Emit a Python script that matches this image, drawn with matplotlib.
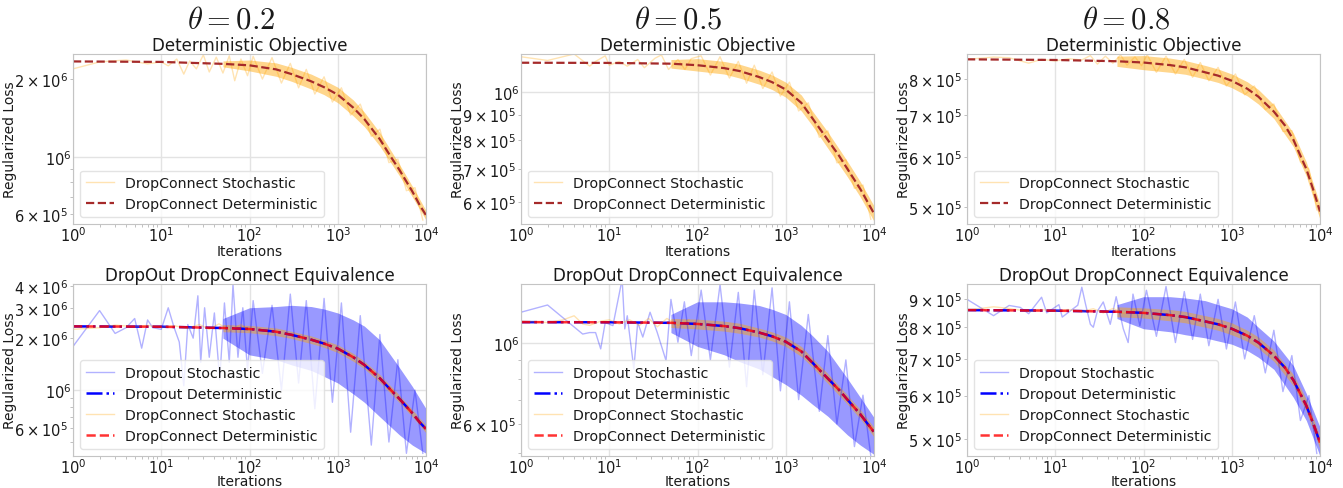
import numpy as np
import matplotlib
matplotlib.use('Agg')
from matplotlib import pyplot as plt

# Column headings
THETAS = ['0.2', '0.5', '0.8']

# Deterministic objective (same curve drawn in both rows of a column)
DET_X = [1, 10, 50, 100, 200, 300, 500, 700, 1000, 1500, 2000, 3000, 4000, 5000, 7000, 8500, 10000]
DET_02 = [2.34e6, 2.33e6, 2.29e6, 2.26e6, 2.18e6, 2.09e6, 1.96e6, 1.86e6, 1.74e6,
          1.55e6, 1.40e6, 1.17e6, 1.0e6, 8.9e5, 7.35e5, 6.5e5, 5.95e5]
DET_05 = [1.143e6, 1.142e6, 1.138e6, 1.13e6, 1.115e6, 1.10e6, 1.07e6, 1.045e6, 1.01e6,
          9.5e5, 8.85e5, 8.0e5, 7.45e5, 7.0e5, 6.38e5, 6.0e5, 5.7e5]
DET_08 = [8.6e5, 8.58e5, 8.54e5, 8.5e5, 8.42e5, 8.35e5, 8.2e5, 8.1e5, 7.95e5,
          7.72e5, 7.5e5, 7.1e5, 6.75e5, 6.4e5, 5.75e5, 5.3e5, 4.92e5]

# dense part of the stochastic runs: lower / upper envelope
BAND_X = [50, 100, 200, 300, 500, 700, 1000, 1500, 2000, 3000, 5000, 7000, 10000]

# --- top row: DropConnect stochastic (individual points, then largest spikes) ---
TOP_DC_X_02 = [1, 2, 4, 7, 10, 12, 15, 18, 21, 25, 30, 35, 42, 50, 59, 68, 80, 95,
               110, 140, 180, 230, 290, 360, 440, 550, 700, 870, 1100, 1400, 1800, 2400,
               3000, 3800, 4800, 6000, 7500, 9200]
TOP_DC_Y_02 = [2.19e6, 2.33e6, 2.37e6, 2.29e6, 2.33e6, 2.25e6, 2.39e6, 2.09e6, 2.35e6,
               2.19e6, 2.48e6, 2.13e6, 2.43e6, 2.11e6, 2.46e6, 1.97e6, 2.39e6, 2.06e6,
               2.45e6, 2.0e6, 2.42e6, 1.93e6, 2.3e6, 1.85e6, 2.18e6, 1.75e6, 2.04e6,
               1.63e6, 1.85e6, 1.45e6, 1.6e6, 1.2e6, 1.28e6, 9.5e5, 9.8e5, 7.4e5,
               7.6e5, 5.7e5]
TOP_DC_HI_02 = [2.35e6, 2.37e6, 2.31e6, 2.22e6, 2.09e6, 1.98e6, 1.86e6, 1.66e6, 1.49e6,
                1.24e6, 9.35e5, 7.7e5, 6.2e5]
TOP_DC_LO_02 = [2.23e6, 2.15e6, 2.05e6, 1.96e6, 1.83e6, 1.74e6, 1.62e6, 1.44e6, 1.31e6,
                1.10e6, 8.45e5, 7.0e5, 5.7e5]

TOP_DC_X_05 = [1, 2, 4, 6, 7, 9, 10, 13, 16, 21, 25, 33, 39, 47, 60, 72, 85,
               110, 140, 180, 230, 290, 360, 440, 550, 700, 870, 1100, 1400, 1800, 2400,
               3000, 3800, 4800, 6000, 7500, 9200]
TOP_DC_Y_05 = [1.175e6, 1.155e6, 1.19e6, 1.125e6, 1.15e6, 1.18e6, 1.13e6, 1.15e6, 1.125e6,
               1.16e6, 1.117e6, 1.167e6, 1.185e6, 1.108e6, 1.16e6, 1.108e6, 1.165e6,
               1.18e6, 1.08e6, 1.175e6, 1.065e6, 1.15e6, 1.04e6, 1.13e6, 1.015e6, 1.095e6,
               9.8e5, 1.045e6, 9.15e5, 9.5e5, 8.1e5, 8.35e5, 7.2e5, 7.3e5, 6.4e5, 6.5e5,
               5.55e5]
TOP_DC_HI_05 = [1.16e6, 1.165e6, 1.15e6, 1.135e6, 1.105e6, 1.08e6, 1.045e6, 9.85e5, 9.15e5,
                8.3e5, 7.25e5, 6.6e5, 5.9e5]
TOP_DC_LO_05 = [1.115e6, 1.10e6, 1.085e6, 1.065e6, 1.035e6, 1.01e6, 9.75e5, 9.15e5, 8.55e5,
                7.7e5, 6.75e5, 6.15e5, 5.5e5]

TOP_DC_X_08 = [1, 2, 3, 5, 7, 10, 14, 20, 25, 30, 37, 45, 55, 65, 80, 95,
               110, 140, 180, 230, 290, 360, 440, 550, 700, 870, 1100, 1400, 1800, 2400,
               3000, 3800, 4800, 6000, 7500, 9200]
TOP_DC_Y_08 = [8.6e5, 8.67e5, 8.65e5, 8.48e5, 8.6e5, 8.55e5, 8.62e5, 8.58e5, 8.72e5,
               8.45e5, 8.7e5, 8.48e5, 8.74e5, 8.42e5, 8.68e5, 8.40e5,
               8.75e5, 8.2e5, 8.7e5, 8.15e5, 8.6e5, 8.05e5, 8.5e5, 7.95e5, 8.35e5, 7.8e5,
               8.15e5, 7.55e5, 7.8e5, 7.15e5, 7.3e5, 6.6e5, 6.62e5, 5.9e5, 5.75e5, 4.95e5]
TOP_DC_HI_08 = [8.7e5, 8.72e5, 8.64e5, 8.56e5, 8.41e5, 8.3e5, 8.15e5, 7.92e5, 7.7e5,
                7.28e5, 6.56e5, 5.9e5, 5.05e5]
TOP_DC_LO_08 = [8.38e5, 8.28e5, 8.2e5, 8.14e5, 8.0e5, 7.9e5, 7.75e5, 7.52e5, 7.3e5,
                6.92e5, 6.24e5, 5.6e5, 4.78e5]

# --- bottom row: Dropout stochastic (individual points, then largest spikes) ---
DO_X_02 = [1, 2, 3, 4, 5, 6, 7, 8, 10, 12, 14, 16, 18, 20, 23, 26, 28, 31, 35, 40, 46, 52,
           59, 65, 74, 84, 95, 110, 140, 180, 230, 290, 360, 440, 550, 700, 870, 1100,
           1400, 1800, 2400, 3000, 3800, 4800, 6000, 7500, 9200]
DO_Y_02 = [1.79e6, 2.89e6, 2.13e6, 2.3e6, 2.6e6, 1.75e6, 2.55e6, 2.3e6, 2.25e6, 3.0e6,
           2.3e6, 1.9e6, 1.06e6, 2.4e6, 2.0e6, 3.52e6, 1.45e6, 3.0e6, 1.55e6, 2.8e6,
           1.15e6, 3.2e6, 1.45e6, 4.1e6, 1.55e6, 3.0e6, 1.3e6, 3.3e6, 1.25e6, 3.1e6,
           1.0e6, 3.6e6, 1.1e6, 3.3e6, 7.8e5, 3.4e6, 8.5e5, 3.2e6, 5.7e5, 2.7e6, 4.8e5,
           2.1e6, 5.0e5, 1.5e6, 4.3e5, 1.0e6, 4.3e5]
DO_HI_02 = [2.6e6, 3.0e6, 3.05e6, 3.1e6, 3.05e6, 2.95e6, 2.8e6, 2.55e6, 2.35e6, 1.95e6,
            1.35e6, 1.05e6, 7.8e5]
DO_LO_02 = [2.0e6, 1.6e6, 1.5e6, 1.4e6, 1.3e6, 1.2e6, 1.1e6, 9.5e5, 8.5e5, 7.0e5,
            5.5e5, 4.8e5, 4.3e5]

DO_X_05 = [1, 2, 5, 6, 7, 8, 9, 11, 14, 15, 16, 19, 21, 24, 29, 35, 44, 50, 60, 71, 85,
           110, 140, 180, 230, 290, 360, 440, 550, 700, 870, 1100, 1400, 1800, 2400,
           3000, 3800, 4800, 6000, 7500, 9200]
DO_Y_05 = [1.217e6, 1.274e6, 1.06e6, 1.07e6, 1.07e6, 9.65e5, 1.14e6, 1.118e6, 1.5e6,
           1.095e6, 1.19e6, 8.5e5, 1.14e6, 1.04e6, 1.217e6, 1.07e6, 8.96e5, 1.32e6,
           1.007e6, 1.30e6, 9.25e5, 1.40e6, 9.0e5, 1.45e6, 8.6e5, 1.38e6, 7.6e5, 1.40e6,
           8.2e5, 1.42e6, 7.4e5, 1.30e6, 7.0e5, 1.20e6, 6.5e5, 1.05e6, 6.0e5, 9.0e5,
           5.2e5, 7.2e5, 4.9e5]
DO_HI_05 = [1.2e6, 1.30e6, 1.30e6, 1.29e6, 1.27e6, 1.24e6, 1.20e6, 1.12e6, 1.05e6, 9.5e5,
            8.0e5, 7.1e5, 6.25e5]
DO_LO_05 = [1.07e6, 9.8e5, 9.3e5, 8.9e5, 8.5e5, 8.1e5, 7.7e5, 7.2e5, 6.8e5, 6.3e5,
            5.6e5, 5.25e5, 4.95e5]

DO_X_08 = [1, 2, 3, 4, 5, 7, 8, 11, 12, 18, 20, 22, 25, 27, 30, 35, 42, 49, 59, 67, 76,
           91, 108, 140, 180, 230, 290, 360, 440, 550, 700, 870, 1100, 1400, 1800, 2400,
           3000, 3800, 4800, 6000, 7500, 9200]
DO_Y_08 = [9.0e5, 8.4e5, 8.77e5, 8.7e5, 8.47e5, 9.08e5, 8.5e5, 8.8e5, 8.35e5, 8.78e5,
           9.47e5, 8.83e5, 8.1e5, 8.0e5, 8.56e5, 8.9e5, 8.1e5, 9.1e5, 7.95e5, 7.5e5,
           9.2e5, 8.05e5, 9.35e5, 7.7e5, 9.5e5, 7.5e5, 9.3e5, 7.6e5, 9.2e5, 7.4e5, 9.0e5,
           7.3e5, 8.9e5, 7.0e5, 8.4e5, 6.6e5, 7.9e5, 6.1e5, 7.1e5, 5.4e5, 6.0e5, 4.7e5]
DO_HI_08 = [8.8e5, 9.1e5, 9.1e5, 9.05e5, 8.95e5, 8.8e5, 8.65e5, 8.35e5, 8.0e5, 7.55e5,
            6.8e5, 6.05e5, 5.25e5]
DO_LO_08 = [8.3e5, 7.95e5, 7.85e5, 7.75e5, 7.65e5, 7.55e5, 7.45e5, 7.25e5, 7.05e5, 6.7e5,
            5.95e5, 5.4e5, 4.65e5]

# --- bottom row: DropConnect stochastic ---
BOT_DC_X_02 = [1, 2, 3, 5, 7, 10, 14, 20, 27, 35, 45, 60, 80, 100]
BOT_DC_Y_02 = [2.25e6, 2.3e6, 2.38e6, 2.33e6, 2.37e6, 2.31e6, 2.36e6, 2.28e6, 2.4e6,
               2.25e6, 2.42e6, 2.22e6, 2.4e6, 2.2e6]
BOT_DC_HI_02 = [2.40e6, 2.37e6, 2.29e6, 2.19e6, 2.06e6, 1.95e6, 1.83e6, 1.63e6, 1.47e6,
                1.23e6, 9.35e5, 7.7e5, 6.25e5]
BOT_DC_LO_02 = [2.18e6, 2.15e6, 2.07e6, 1.99e6, 1.86e6, 1.77e6, 1.65e6, 1.47e6, 1.33e6,
                1.11e6, 8.45e5, 7.0e5, 5.65e5]

BOT_DC_X_05 = [1, 2, 3, 4, 5, 6, 8, 10, 13, 17, 22, 28, 35, 45, 60, 80]
BOT_DC_Y_05 = [1.15e6, 1.14e6, 1.16e6, 1.19e6, 1.13e6, 1.12e6, 1.15e6, 1.16e6, 1.13e6,
               1.16e6, 1.12e6, 1.17e6, 1.11e6, 1.17e6, 1.12e6, 1.16e6]
BOT_DC_HI_05 = [1.17e6, 1.165e6, 1.15e6, 1.135e6, 1.10e6, 1.075e6, 1.04e6, 9.8e5, 9.1e5,
                8.25e5, 7.2e5, 6.57e5, 5.87e5]
BOT_DC_LO_05 = [1.105e6, 1.095e6, 1.08e6, 1.065e6, 1.04e6, 1.015e6, 9.8e5, 9.2e5, 8.6e5,
                7.75e5, 6.8e5, 6.2e5, 5.53e5]

BOT_DC_X_08 = [1, 2, 3, 5, 7, 10, 14, 20, 27, 35, 45, 60, 80]
BOT_DC_Y_08 = [8.6e5, 8.72e5, 8.66e5, 8.55e5, 8.62e5, 8.56e5, 8.62e5, 8.55e5, 8.65e5,
               8.5e5, 8.66e5, 8.48e5, 8.62e5]
BOT_DC_HI_08 = [8.72e5, 8.68e5, 8.62e5, 8.55e5, 8.4e5, 8.3e5, 8.15e5, 7.9e5, 7.68e5,
                7.27e5, 6.55e5, 5.9e5, 5.05e5]
BOT_DC_LO_08 = [8.36e5, 8.32e5, 8.22e5, 8.15e5, 8.0e5, 7.9e5, 7.75e5, 7.54e5, 7.32e5,
                6.93e5, 6.25e5, 5.6e5, 4.79e5]

# y ranges of each panel
TOP_YLIM = [(5.5e5, 2.5e6), (5.43e5, 1.19e6), (4.70e5, 8.77e5)]
BOT_YLIM = [(4.15e5, 4.12e6), (4.9e5, 1.455e6), (4.65e5, 9.6e5)]

DETS = [DET_02, DET_05, DET_08]
TOP_DC = [(TOP_DC_X_02, TOP_DC_Y_02, TOP_DC_LO_02, TOP_DC_HI_02),
          (TOP_DC_X_05, TOP_DC_Y_05, TOP_DC_LO_05, TOP_DC_HI_05),
          (TOP_DC_X_08, TOP_DC_Y_08, TOP_DC_LO_08, TOP_DC_HI_08)]
BOT_DO = [(DO_X_02, DO_Y_02, DO_LO_02, DO_HI_02),
          (DO_X_05, DO_Y_05, DO_LO_05, DO_HI_05),
          (DO_X_08, DO_Y_08, DO_LO_08, DO_HI_08)]
BOT_DC = [(BOT_DC_X_02, BOT_DC_Y_02, BOT_DC_LO_02, BOT_DC_HI_02),
          (BOT_DC_X_05, BOT_DC_Y_05, BOT_DC_LO_05, BOT_DC_HI_05),
          (BOT_DC_X_08, BOT_DC_Y_08, BOT_DC_LO_08, BOT_DC_HI_08)]

plt.rcParams['font.family'] = 'DejaVu Sans'
plt.rcParams['text.color'] = '0.1'
plt.rcParams['axes.labelcolor'] = '0.1'
plt.rcParams['xtick.color'] = '0.1'
plt.rcParams['ytick.color'] = '0.1'

W, H = 1343.0, 489.0
LEFTS = [73, 521, 967]
AX_W = 353
THETA_X = [231, 678, 1126]


def style_axis(ax, ylim, xlab_y):
    ax.set_xscale('log')
    ax.set_yscale('log')
    ax.set_xlim(1, 1e4)
    ax.set_ylim(*ylim)
    ax.grid(True, which='major', color='#e3e3e3', lw=1)
    ax.set_axisbelow(True)
    for s in ax.spines.values():
        s.set_color('#c4c4c4')
    ax.tick_params(which='major', length=0, labelsize=10.5, pad=1)
    ax.tick_params(which='minor', length=2.5, width=0.6, color='#b5b5b5', labelsize=10.5, pad=1)
    ax.set_xlabel('Iterations', fontsize=10)
    ax.set_ylabel('Regularized Loss', fontsize=10)
    ax.xaxis.set_label_coords(0.5, xlab_y)
    ax.yaxis.set_label_coords(-0.16, 0.5)


def stochastic(ax, data, color, line_alpha, band_alpha, label):
    xs, ys, lo, hi = data
    ax.fill_between(BAND_X, lo, hi, color=color, alpha=band_alpha, lw=0)
    ax.plot(xs, ys, color=color, alpha=line_alpha, lw=1, label=label)


fig = plt.figure(figsize=(W / 100, H / 100), dpi=100)

for i in range(3):
    left = LEFTS[i] / W
    # top row
    ax = fig.add_axes([left, 1 - 225 / H, AX_W / W, 170 / H])
    style_axis(ax, TOP_YLIM[i], -0.115)
    stochastic(ax, TOP_DC[i], 'orange', 0.3, 0.45, 'DropConnect Stochastic')
    ax.plot(DET_X, DETS[i], color='brown', ls='--', lw=1.6, label='DropConnect Deterministic')
    ax.set_title('Deterministic Objective', fontsize=12, pad=2)
    ax.legend(loc='lower left', fontsize=10.2, framealpha=0.8, edgecolor='#dddddd')

    # bottom row
    ax = fig.add_axes([left, 1 - 457 / H, AX_W / W, 172 / H])
    style_axis(ax, BOT_YLIM[i], -0.105)
    stochastic(ax, BOT_DO[i], 'blue', 0.3, 0.4, 'Dropout Stochastic')
    ax.plot(DET_X, DETS[i], color='blue', ls='-.', lw=1.8, label='Dropout Deterministic')
    stochastic(ax, BOT_DC[i], 'orange', 0.3, 0.45, 'DropConnect Stochastic')
    ax.plot(DET_X, DETS[i], color='red', ls='--', lw=1.8, alpha=0.8,
            label='DropConnect Deterministic')
    ax.set_title('DropOut DropConnect Equivalence', fontsize=12, pad=2)
    ax.legend(loc='lower left', fontsize=10.2, framealpha=0.8, edgecolor='#dddddd')

    fig.text(THETA_X[i] / W, 1 - 20 / H, r'$\theta = ' + THETAS[i] + '$',
             fontsize=22, ha='center', va='center', math_fontfamily='cm')

fig.savefig('out.png', dpi=100)
